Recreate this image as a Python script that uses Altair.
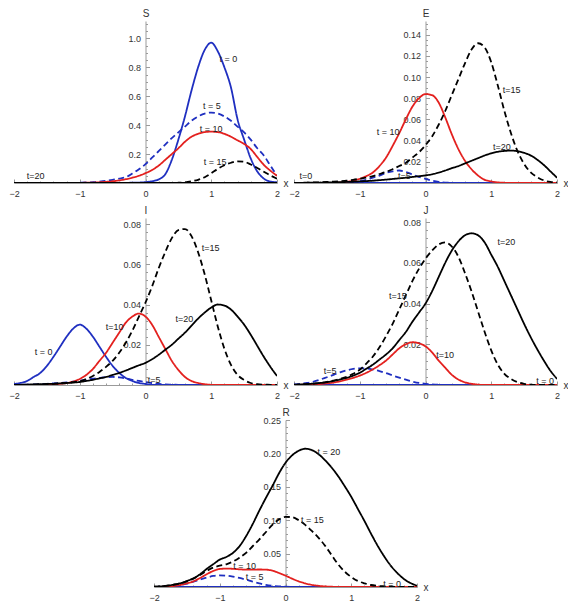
import altair as alt
import pandas as pd

X = [-2.0, -1.9, -1.8, -1.7, -1.6, -1.5, -1.4, -1.3, -1.2, -1.1, -1.0, -0.9, -0.8, -0.7, -0.6, -0.5,
     -0.4, -0.3, -0.2, -0.1, 0.0, 0.1, 0.2, 0.3, 0.4, 0.5, 0.6, 0.7, 0.8, 0.9, 1.0, 1.1, 1.2, 1.3,
     1.4, 1.5, 1.6, 1.7, 1.8, 1.9, 2.0]

SERIES = ["t0", "t5", "t10", "t15", "t20"]

# ---------------- S ----------------
S_t0 = [0] * 17 + [0.001, 0.002, 0.003,
        0.006, 0.012, 0.025, 0.06, 0.16, 0.30, 0.46, 0.64, 0.80, 0.92, 0.97,
        0.91, 0.80, 0.66, 0.44, 0.30, 0.17, 0.08, 0.03, 0.01, 0.005]
S_t5 = [0] * 8 + [0.0005, 0.001,
        0.002, 0.004, 0.006, 0.01, 0.015, 0.022, 0.03, 0.04, 0.065, 0.095,
        0.13, 0.175, 0.22, 0.265, 0.31, 0.35, 0.39, 0.43, 0.46, 0.48, 0.487,
        0.48, 0.46, 0.43, 0.39, 0.35, 0.30, 0.24, 0.19, 0.12, 0.05]
S_t10 = [0] * 10 + [0.001, 0.002, 0.003, 0.005, 0.008, 0.012, 0.018, 0.026, 0.037, 0.05,
         0.068, 0.09, 0.12, 0.16, 0.20, 0.24, 0.285, 0.32, 0.34, 0.352, 0.355,
         0.352, 0.34, 0.32, 0.295, 0.27, 0.235, 0.18, 0.125, 0.085, 0.05]
S_t15 = [0] * 25 + [0.002, 0.005, 0.012, 0.022, 0.04, 0.068,
         0.098, 0.123, 0.14, 0.15, 0.147, 0.128, 0.104, 0.078, 0.052, 0.03]
S_t20 = [0] * 41
S_LABELS = [("t = 0", 1.26, 0.86), ("t = 5", 1.01, 0.53), ("t = 10", 1.0, 0.375),
            ("t = 15", 1.06, 0.145), ("t=20", -1.67, 0.046)]

# ---------------- E ----------------
E_t0 = [0] * 41
E_t5 = [0] * 8 + [0.0005, 0.001,
        0.0018, 0.003, 0.005, 0.007, 0.0095, 0.011, 0.0118, 0.0105, 0.008, 0.0058,
        0.004, 0.0022, 0.001, 0.0004, 0.0001] + [0] * 16
E_t10 = [0] * 6 + [0.0002, 0.0005, 0.0012, 0.0022, 0.004, 0.0065, 0.010, 0.016, 0.024, 0.035,
                   0.047, 0.060, 0.072, 0.080,
         0.084, 0.083, 0.076, 0.062, 0.046, 0.032, 0.021, 0.013, 0.007, 0.003,
         0.0015, 0.0006, 0.0002] + [0] * 8
E_t15 = [0, 0.0002, 0.0003, 0.0005, 0.0007, 0.001, 0.0013, 0.0017, 0.0022, 0.003,
         0.004, 0.005, 0.0065, 0.0085, 0.0105, 0.013, 0.016, 0.019, 0.024, 0.029,
         0.0357, 0.044, 0.055, 0.068, 0.083, 0.098, 0.113, 0.126, 0.132, 0.128, 0.114,
         0.092, 0.068, 0.047, 0.03, 0.018, 0.01, 0.0055, 0.0025, 0.001, 0.0005]
E_t20 = [0, 0.0001, 0.0002, 0.0003, 0.0004, 0.0005, 0.0006, 0.0008, 0.001, 0.0012,
         0.0015, 0.0018, 0.0022, 0.0027, 0.0032, 0.0038, 0.0044, 0.005, 0.0057, 0.0064,
         0.0072, 0.0082, 0.0098, 0.0118, 0.014, 0.016, 0.0185, 0.021, 0.0235, 0.026, 0.028,
         0.0295, 0.0303, 0.0306, 0.030, 0.0285, 0.026, 0.022, 0.017, 0.011, 0.005]
E_LABELS = [("t = 10", -0.57, 0.048), ("t=15", 1.31, 0.088), ("t=20", 1.16, 0.034),
            ("t=5", -0.32, 0.007), ("t=0", -1.82, 0.0066)]

# ---------------- I ----------------
I_t0 = [0.0005, 0.001, 0.002, 0.004, 0.006, 0.0095, 0.014, 0.019, 0.024, 0.028,
        0.030, 0.028, 0.024, 0.019, 0.014, 0.0095, 0.006, 0.0035, 0.002, 0.001,
        0.0005] + [0] * 20
I_t5 = [0, 0.0001, 0.0002, 0.0003, 0.0004, 0.0006, 0.0008, 0.001, 0.0013, 0.0017,
        0.0021, 0.0026, 0.0031, 0.0035, 0.0039, 0.004, 0.0038, 0.0033, 0.0026, 0.002,
        0.0015, 0.001, 0.0006, 0.0003, 0.0002, 0.0001] + [0] * 15
I_t10 = [0] * 6 + [0.0003, 0.0006, 0.001, 0.0017,
         0.003, 0.005, 0.008, 0.012, 0.016, 0.021, 0.026, 0.031, 0.034, 0.0355,
         0.034, 0.030, 0.024, 0.018, 0.012, 0.0075, 0.004, 0.002, 0.001, 0.0004,
         0.0001] + [0] * 10
I_t15 = [0, 0.0001, 0.0001, 0.0002, 0.0003, 0.0004, 0.0006, 0.0008, 0.001, 0.0014,
         0.0019, 0.003, 0.0045, 0.0065, 0.009, 0.012, 0.016, 0.021, 0.027, 0.034,
         0.041, 0.049, 0.058, 0.066, 0.073, 0.077, 0.0775, 0.074, 0.066, 0.055, 0.042,
         0.029, 0.018, 0.010, 0.005, 0.0025, 0.001, 0.0004, 0.0002, 0.0001, 0]
I_t20 = [0, 0.0001, 0.0002, 0.0003, 0.0004, 0.0005, 0.0006, 0.0008, 0.001, 0.0012,
         0.0015, 0.002, 0.0026, 0.0033, 0.004, 0.005, 0.006, 0.0072, 0.0085, 0.0098,
         0.011, 0.0128, 0.015, 0.0175, 0.020, 0.023, 0.026, 0.0295, 0.033, 0.036, 0.0385,
         0.040, 0.0395, 0.0375, 0.034, 0.030, 0.025, 0.0195, 0.014, 0.009, 0.0045]
I_LABELS = [("t = 0", -1.55, 0.0163), ("t=10", -0.47, 0.0286), ("t=15", 0.99, 0.068),
            ("t=20", 0.59, 0.033), ("t=5", 0.13, 0.0024)]

# ---------------- J ----------------
J_t0 = [0] * 41
J_t5 = [0.0003, 0.0006, 0.001, 0.0017, 0.0027, 0.0038, 0.005, 0.0062, 0.0072, 0.0079,
        0.0082, 0.0081, 0.0076, 0.0068, 0.0058, 0.0047, 0.0036, 0.0026, 0.0017, 0.001,
        0.0006, 0.0003, 0.0001] + [0] * 18
J_t10 = [0, 0.0001, 0.0002, 0.0003, 0.0005, 0.0008, 0.0012, 0.0018, 0.0026, 0.0035,
         0.0046, 0.006, 0.0077, 0.0097, 0.012, 0.015, 0.018, 0.020, 0.021, 0.0205,
         0.019, 0.016, 0.012, 0.0085, 0.005, 0.0027, 0.0013, 0.0006, 0.0002] + [0] * 12
J_t15 = [0, 0.0002, 0.0004, 0.0007, 0.001, 0.0015, 0.0022, 0.003, 0.004, 0.0055,
         0.0075, 0.0105, 0.014, 0.0185, 0.024, 0.030, 0.037, 0.044, 0.051, 0.057,
         0.062, 0.066, 0.069, 0.070, 0.068, 0.063, 0.055, 0.046, 0.036, 0.026, 0.017,
         0.010, 0.0055, 0.003, 0.0014, 0.0006, 0.0002, 0, 0, 0, 0]
J_t20 = [0.0002, 0.0003, 0.0005, 0.0007, 0.001, 0.0014, 0.002, 0.0027, 0.0035, 0.0046,
         0.006, 0.008, 0.010, 0.0125, 0.015, 0.018, 0.022, 0.026, 0.031, 0.0355,
         0.040, 0.046, 0.053, 0.060, 0.066, 0.0705, 0.0735, 0.0745, 0.0735, 0.070, 0.064,
         0.058, 0.051, 0.044, 0.037, 0.030, 0.0235, 0.0175, 0.012, 0.007, 0.003]
J_LABELS = [("t=20", 1.23, 0.070), ("t=15", -0.42, 0.0435), ("t=10", 0.30, 0.0147),
            ("t=5", -1.45, 0.0067), ("t = 0", 1.82, 0.002)]

# ---------------- R ----------------
R_t0 = [0] * 41
R_t5 = [0.0002, 0.0004, 0.0008, 0.0015, 0.003, 0.005, 0.008, 0.011, 0.014, 0.0165,
        0.0175, 0.017, 0.0155, 0.0135, 0.011, 0.008, 0.0055, 0.0032, 0.0018, 0.001,
        0.0005, 0.0002] + [0] * 19
R_t10 = [0.0001, 0.0003, 0.0007, 0.0015, 0.003, 0.0055, 0.0085, 0.0135, 0.019, 0.024,
         0.027, 0.0275, 0.0272, 0.0265, 0.026, 0.026, 0.0262, 0.026, 0.0245, 0.021,
         0.017, 0.0125, 0.0085, 0.0055, 0.0032, 0.0018, 0.0009, 0.0004, 0.0002] + [0] * 12
R_t15 = [0.0005, 0.001, 0.002, 0.0035, 0.0055, 0.0085, 0.0125, 0.018, 0.024, 0.029,
         0.032, 0.034, 0.038, 0.044, 0.051, 0.061, 0.071, 0.082, 0.093, 0.101,
         0.105, 0.1045, 0.100, 0.093, 0.084, 0.074, 0.062, 0.048, 0.034, 0.023, 0.015,
         0.009, 0.0055, 0.003, 0.0017, 0.001, 0.0005, 0.0002, 0.0001, 0, 0]
R_t20 = [0.0005, 0.001, 0.002, 0.0035, 0.0055, 0.009, 0.013, 0.019, 0.027, 0.034,
         0.041, 0.045, 0.051, 0.061, 0.076, 0.094, 0.114, 0.133, 0.151, 0.170,
         0.186, 0.197, 0.204, 0.207, 0.205, 0.199, 0.19, 0.179, 0.166, 0.151, 0.135,
         0.117, 0.099, 0.080, 0.062, 0.046, 0.032, 0.021, 0.012, 0.006, 0.002]
R_LABELS = [("t = 20", 0.66, 0.2017), ("t = 15", 0.41, 0.1006), ("t = 10", -0.62, 0.032),
            ("t = 5", -0.47, 0.015), ("t = 0", 1.62, 0.005)]

X_MAJOR = [-2, -1, 0, 1, 2]
X_MINOR = [-1.8, -1.6, -1.4, -1.2, -0.8, -0.6, -0.4, -0.2, 0.2, 0.4, 0.6, 0.8,
           1.2, 1.4, 1.6, 1.8]

BLUE = "#1f2fc0"
RED = "#e3201e"
BLACK = "#000000"
COLORS = [BLUE, BLUE, RED, BLACK, BLACK]
DASHES = [[1, 0], [6, 3.5], [1, 0], [6, 3.5], [1, 0]]
FONT = "Liberation Sans"
AXIS_GRAY = "#9a9a9a"
LABEL_COLOR = "#333333"


def minor_ticks(major, step, top):
    out = []
    n = int(round(top / step))
    for i in range(1, n + 1):
        v = round(i * step, 4)
        if all(abs(v - m) > 1e-9 for m in major):
            out.append(v)
    return out


def panel(name, series, labels, ymax, major, step, fmt, W, H):
    rows = []
    for s, vals in zip(SERIES, series):
        for xv, yv in zip(X, vals):
            rows.append({"x": xv, "y": yv, "s": s})
    df = pd.DataFrame(rows)
    lab = pd.DataFrame([{"text": t, "x": a, "y": b} for t, a, b in labels])
    minor = minor_ticks(major, step, ymax)

    common = dict(grid=False, domainColor=AXIS_GRAY, tickColor=AXIS_GRAY,
                  labelColor=LABEL_COLOR, labelFont=FONT, labelFontSize=9,
                  labelFlush=False, labelOverlap=False)
    xaxis = alt.Axis(
        orient="top", offset=-H, values=X_MAJOR, tickSize=4, format="d",
        labelPadding=-10, labelBaseline="top",
        title="x", titleX=W + 6, titleY=0, titleAlign="left", titleBaseline="middle",
        titleAngle=0, titleFont=FONT, titleFontSize=10, titleFontWeight="normal",
        titleColor=LABEL_COLOR, **common,
    )
    yaxis = alt.Axis(
        orient="right", offset=-W / 2, values=major, tickSize=4, format=fmt,
        labelAlign="right", labelPadding=-9, labelBaseline="middle",
        title=name, titleX=0, titleY=-3, titleAlign="center", titleBaseline="bottom",
        titleAngle=0, titleFont=FONT, titleFontSize=10, titleFontWeight="normal",
        titleColor=LABEL_COLOR, **common,
    )
    xminor = alt.Axis(orient="top", offset=-H, values=X_MINOR, tickSize=2,
                      labels=False, domain=False, grid=False, tickColor=AXIS_GRAY, title=None)
    yminor = alt.Axis(orient="right", offset=-W / 2, values=minor, tickSize=2,
                      labels=False, domain=False, grid=False, tickColor=AXIS_GRAY, title=None)

    xs = alt.Scale(domain=[-2, 2], nice=False, zero=False)
    ys = alt.Scale(domain=[0, ymax], nice=False)

    lines = alt.Chart(df).mark_line(strokeWidth=1.8, interpolate="monotone", clip=True).encode(
        x=alt.X("x:Q", scale=xs, axis=xaxis),
        y=alt.Y("y:Q", scale=ys, axis=yaxis),
        color=alt.Color("s:N", scale=alt.Scale(domain=SERIES, range=COLORS), legend=None),
        strokeDash=alt.StrokeDash("s:N", scale=alt.Scale(domain=SERIES, range=DASHES), legend=None),
    )
    texts = alt.Chart(lab).mark_text(font=FONT, fontSize=9, color="#222222").encode(
        x=alt.X("x:Q", scale=xs, axis=xminor),
        y=alt.Y("y:Q", scale=ys, axis=yminor),
        text="text:N",
    )
    return (alt.layer(lines, texts)
            .resolve_axis(x="independent", y="independent")
            .properties(width=W, height=H))


W = 263
H1 = 162
H2 = 167
pS = panel("S", [S_t0, S_t5, S_t10, S_t15, S_t20], S_LABELS, 1.12,
           [0.2, 0.4, 0.6, 0.8, 1.0], 0.05, ".1f", W, H1)
pE = panel("E", [E_t0, E_t5, E_t10, E_t15, E_t20], E_LABELS, 0.153,
           [0.02, 0.04, 0.06, 0.08, 0.1, 0.12, 0.14], 0.005, ".2f", W, H1)
pI = panel("I", [I_t0, I_t5, I_t10, I_t15, I_t20], I_LABELS, 0.083,
           [0.02, 0.04, 0.06, 0.08], 0.004, ".2f", W, H2)
pJ = panel("J", [J_t0, J_t5, J_t10, J_t15, J_t20], J_LABELS, 0.082,
           [0.02, 0.04, 0.06, 0.08], 0.004, ".2f", W, H2)
pR = panel("R", [R_t0, R_t5, R_t10, R_t15, R_t20], R_LABELS, 0.25,
           [0.05, 0.1, 0.15, 0.2, 0.25], 0.01, ".2f", W, H2)

chart = alt.vconcat(
    alt.hconcat(pS, pE, spacing=0),
    alt.hconcat(pI, pJ, spacing=0),
    pR,
    spacing=7, center=True,
    padding={"left": 0, "top": 0, "right": 0, "bottom": 0},
    background="white",
).configure_view(stroke=None)

chart.save("out.html", embed_options={"renderer": "svg", "actions": False})
